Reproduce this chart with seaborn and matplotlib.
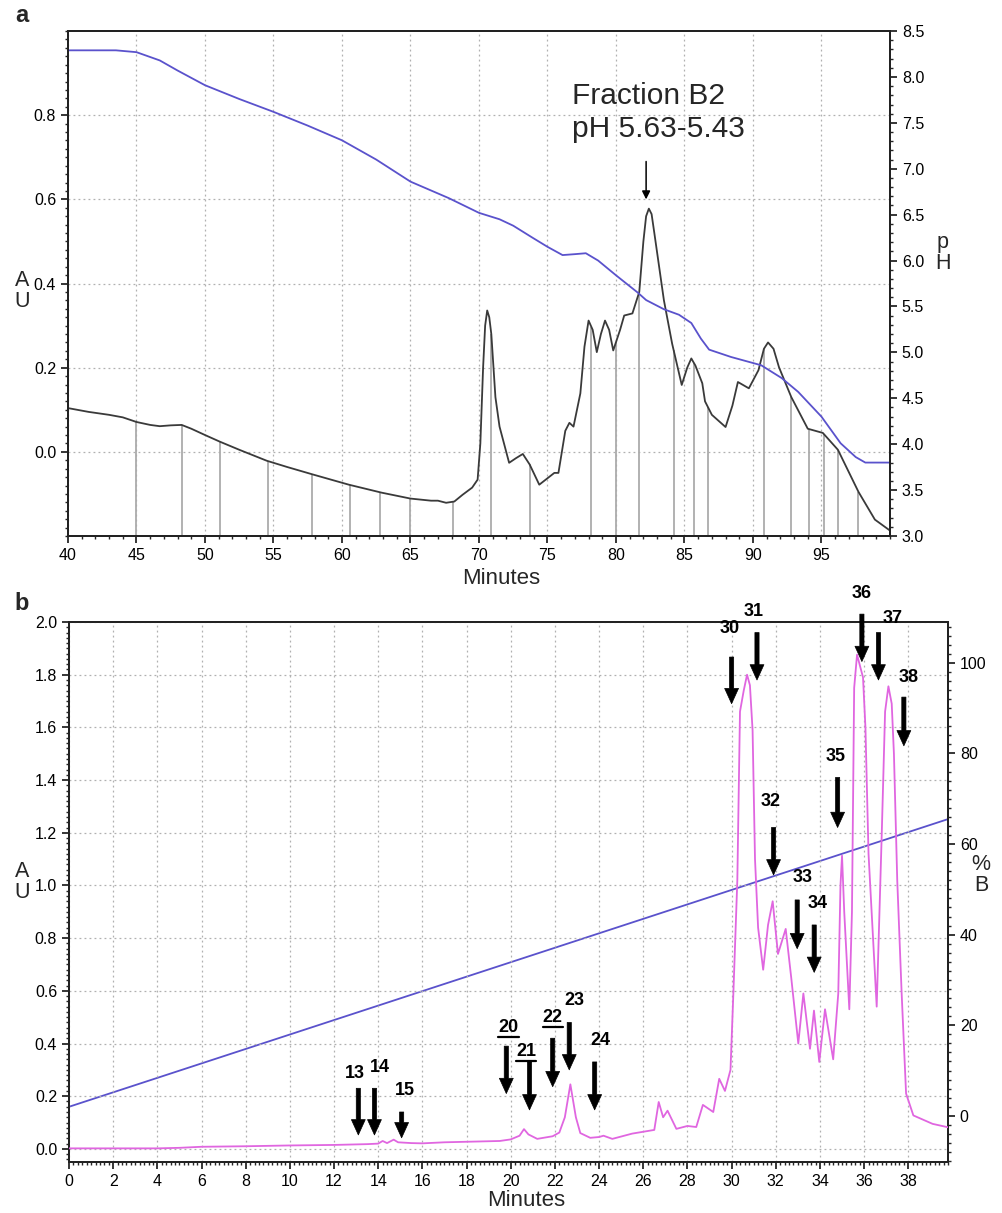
import numpy as np
import pandas as pd
import seaborn as sns
import matplotlib.pyplot as plt
from matplotlib.lines import Line2D
from matplotlib.ticker import MultipleLocator, FormatStrFormatter

sns.set_style('ticks')
plt.rcParams['font.family'] = ['Liberation Sans', 'DejaVu Sans']

# panel a: UV trace (AU) over minutes
a_min = [40.0, 41.5, 43.0, 44.0, 45.0, 46.0, 46.7, 47.5, 48.3, 49.0, 50.0, 51.1, 52.5,
         54.5, 56.0, 57.9, 60.5, 62.9, 65.0, 66.5, 67.0, 67.6, 68.2, 68.8, 69.5, 69.9,
         70.1, 70.3, 70.45, 70.6, 70.75, 70.9, 71.2, 71.5, 72.2, 72.7, 73.2, 73.7, 74.4,
         75.5, 75.8, 76.3, 76.6, 76.9, 77.4, 77.7, 78.0, 78.3, 78.6, 78.9, 79.2, 79.5,
         79.8, 80.3, 80.6, 81.2, 81.7, 82.0, 82.2, 82.4, 82.6, 82.8, 83.5, 84.1, 84.8,
         85.2, 85.5, 85.8, 86.3, 86.5, 87.0, 88.0, 88.5, 88.9, 89.7, 90.4, 90.8, 91.1,
         91.5, 91.9, 92.8, 94.0, 95.1, 96.2, 97.7, 98.9, 100.0]
a_au = [0.104, 0.095, 0.088, 0.082, 0.071, 0.064, 0.061, 0.063, 0.064, 0.055, 0.040, 0.024, 0.005,
        -0.021, -0.036, -0.054, -0.078, -0.097, -0.111, -0.116, -0.116, -0.121, -0.118, -0.102, -0.085, -0.066,
        0.020, 0.200, 0.300, 0.336, 0.320, 0.280, 0.130, 0.060, -0.026, -0.015, -0.005, -0.030, -0.078,
        -0.050, -0.050, 0.050, 0.069, 0.060, 0.139, 0.250, 0.312, 0.290, 0.237, 0.280, 0.312, 0.290,
        0.241, 0.290, 0.324, 0.329, 0.380, 0.500, 0.560, 0.578, 0.565, 0.520, 0.360, 0.257, 0.159,
        0.200, 0.222, 0.205, 0.163, 0.120, 0.088, 0.059, 0.110, 0.166, 0.151, 0.194, 0.245, 0.260,
        0.245, 0.201, 0.130, 0.055, 0.045, 0.005, -0.095, -0.161, -0.187]

# panel a: pH gradient
ph_min = [40.0, 43.5, 45.0, 46.7, 48.0, 50.0, 52.5, 55.0, 57.5, 60.0, 62.5, 65.0, 67.8, 70.0,
          71.5, 72.5, 73.9, 75.0, 76.1, 77.0, 77.8, 78.7, 80.0, 81.6, 82.2, 83.5, 84.6, 85.5,
          86.2, 86.8, 88.4, 90.6, 92.1, 93.3, 95.0, 96.4, 97.5, 98.2, 100.0]
ph_val = [8.29, 8.29, 8.27, 8.18, 8.07, 7.91, 7.76, 7.62, 7.47, 7.31, 7.10, 6.86, 6.68, 6.52,
          6.45, 6.38, 6.25, 6.15, 6.06, 6.07, 6.08, 6.00, 5.84, 5.65, 5.57, 5.47, 5.41, 5.32,
          5.15, 5.03, 4.95, 4.86, 4.72, 4.57, 4.30, 4.01, 3.86, 3.80, 3.80]

# panel a: collected fractions (minutes)
frac_min = [45.0, 48.3, 51.1, 54.6, 57.8, 60.6, 62.8, 65.0, 68.1, 70.9, 73.7, 78.2, 80.0,
            81.7, 84.2, 85.7, 86.7, 90.8, 92.8, 94.1, 95.2, 96.2, 97.7]

# panel b: UV trace (AU)
b_min = [0.0, 2.0, 4.0, 5.0, 6.0, 8.0, 10.0, 12.0, 13.5, 14.0, 14.2, 14.4, 14.7, 14.9, 15.5,
         16.0, 17.0, 18.0, 19.5, 20.0, 20.4, 20.6, 20.8, 21.2, 21.9, 22.2, 22.45, 22.7, 22.95,
         23.15, 23.6, 24.0, 24.2, 24.6, 25.5, 26.5, 26.7, 26.9, 27.1, 27.5, 28.0, 28.4, 28.7,
         29.17, 29.44, 29.7, 29.95, 30.08, 30.26, 30.38, 30.55, 30.7, 30.83, 30.95, 31.06, 31.2,
         31.43, 31.65, 31.86, 32.1, 32.45, 32.7, 33.02, 33.25, 33.55, 33.73, 33.97, 34.23, 34.6,
         34.83, 34.93, 35.0, 35.1, 35.33, 35.45, 35.55, 35.68, 35.95, 36.06, 36.2, 36.57, 36.8,
         36.95, 37.1, 37.25, 37.35, 37.5, 37.7, 37.9, 38.23, 39.1, 39.8]
b_au = [0.002, 0.002, 0.002, 0.004, 0.008, 0.010, 0.013, 0.015, 0.018, 0.020, 0.030, 0.022, 0.035, 0.025, 0.022,
        0.021, 0.025, 0.027, 0.030, 0.036, 0.050, 0.075, 0.055, 0.038, 0.048, 0.062, 0.120, 0.245, 0.120,
        0.060, 0.042, 0.045, 0.050, 0.038, 0.058, 0.072, 0.178, 0.120, 0.145, 0.076, 0.087, 0.083, 0.167,
        0.140, 0.266, 0.220, 0.300, 0.590, 1.020, 1.660, 1.740, 1.800, 1.760, 1.590, 1.100, 0.840,
        0.680, 0.850, 0.940, 0.740, 0.835, 0.650, 0.400, 0.590, 0.380, 0.525, 0.330, 0.530, 0.340,
        0.590, 1.000, 1.113, 0.900, 0.530, 0.900, 1.750, 1.876, 1.790, 1.600, 1.120, 0.540, 1.200,
        1.660, 1.756, 1.690, 1.500, 1.020, 0.590, 0.210, 0.127, 0.095, 0.082]

# panel b: %B gradient
grad_min = [0.0, 39.8]
grad_pct = [2.0, 65.5]

# panel b: fraction arrows (label, x, arrow tail, arrow tip, label x, label y)
arr_lab = ['13', '14', '15', '20', '21', '22', '23', '24', '30', '31', '32', '33', '34',
           '35', '36', '37', '38']
arr_x = [13.1, 13.83, 15.06, 19.8, 20.85, 21.9, 22.65, 23.8, 30.0, 31.15, 31.9, 32.97, 33.74,
         34.8, 35.9, 36.65, 37.8]
arr_tail = [0.23, 0.23, 0.14, 0.39, 0.33, 0.42, 0.48, 0.33, 1.867, 1.96, 1.22, 0.945, 0.85,
            1.41, 2.03, 1.96, 1.715]
arr_tip = [0.053, 0.053, 0.042, 0.21, 0.148, 0.236, 0.30, 0.148, 1.69, 1.78, 1.04, 0.76, 0.67,
           1.22, 1.85, 1.78, 1.53]
lab_x = [12.95, 14.08, 15.2, 19.9, 20.7, 21.9, 22.9, 24.05, 29.9, 31.0, 31.75, 33.2, 33.9,
         34.7, 35.9, 37.3, 38.0]
lab_y = [0.288, 0.31, 0.22, 0.46, 0.37, 0.50, 0.565, 0.41, 1.977, 2.04, 1.32, 1.03, 0.93,
         1.49, 2.11, 2.015, 1.79]
underlined = ['20', '21', '22']

df_a = pd.DataFrame({'Minutes': a_min, 'AU': a_au})
df_ph = pd.DataFrame({'Minutes': ph_min, 'pH': ph_val})
df_b = pd.DataFrame({'Minutes': b_min, 'AU': b_au})
df_g = pd.DataFrame({'Minutes': grad_min, 'B': grad_pct})

fig = plt.figure(figsize=(10.03, 12.13), dpi=100)
ax1 = fig.add_axes([0.0678, 0.5581, 0.8195, 0.4163])
ax3 = fig.add_axes([0.0688, 0.0420, 0.8764, 0.4452])

grid_kw = dict(color='#b0b0b0', ls=(0, (1.5, 2.5)), lw=0.9)
tick_kw = dict(direction='out', labelsize=11.5, width=1.1, colors='black')


def style_spines(*axes):
    for ax in axes:
        for s in ax.spines.values():
            s.set_linewidth(1.4)
            s.set_color('#222222')


# ---- panel a ----
tops = np.interp(frac_min, a_min, a_au)
ax1.vlines(frac_min, -0.2, tops, color='#ababab', lw=1.3, zorder=1)
sns.lineplot(data=df_a, x='Minutes', y='AU', ax=ax1, color='#3a3a3a', lw=1.3, zorder=3)
ax1.set_xlim(40, 100)
ax1.set_ylim(-0.2, 1.0)
ax1.set_xticks(np.arange(40, 100, 5))
ax1.xaxis.set_minor_locator(MultipleLocator(1))
ax1.set_yticks(np.arange(0, 0.81, 0.2))
ax1.yaxis.set_minor_locator(MultipleLocator(0.02))
ax1.yaxis.set_major_formatter(FormatStrFormatter('%.1f'))
ax1.grid(True, which='major', **grid_kw)
ax1.set_xlabel('')
ax1.set_ylabel('')
ax1.tick_params(which='major', length=5, **tick_kw)
ax1.tick_params(which='minor', length=2.5, direction='out', width=1)

ax2 = ax1.twinx()
sns.lineplot(data=df_ph, x='Minutes', y='pH', ax=ax2, color='#5a52cc', lw=1.3)
ax2.set_ylim(3.0, 8.5)
ax2.set_yticks(np.arange(3.0, 8.51, 0.5))
ax2.yaxis.set_minor_locator(MultipleLocator(0.1))
ax2.yaxis.set_major_formatter(FormatStrFormatter('%.1f'))
ax2.set_ylabel('')
ax2.tick_params(which='major', length=5, **tick_kw)
ax2.tick_params(which='minor', length=2.5, direction='out', width=1)
style_spines(ax1, ax2)

ax1.annotate('', xy=(82.2, 0.60), xytext=(82.2, 0.69),
             arrowprops=dict(arrowstyle='-|>', lw=1.1, color='black',
                             mutation_scale=12, shrinkA=0, shrinkB=0))
ax1.text(76.8, 0.806, 'Fraction B2\npH 5.63-5.43', fontsize=21.5, ha='left',
         va='center', linespacing=1.2)

fig.text(22 / 1003, 1 - 291 / 1213, 'A\nU', fontsize=15.5, ha='center', va='center',
         linespacing=0.95)
fig.text(943 / 1003, 1 - 253 / 1213, 'p\nH', fontsize=15.5, ha='center', va='center',
         linespacing=0.95)
fig.text(501 / 1003, 1 - 578 / 1213, 'Minutes', fontsize=16, ha='center', va='center')
fig.text(22 / 1003, 1 - 15 / 1213, 'a', fontsize=17, fontweight='bold', ha='center',
         va='center')

# ---- panel b ----
sns.lineplot(data=df_b, x='Minutes', y='AU', ax=ax3, color='#e066e0', lw=1.3, zorder=3)
ax3.set_xlim(0, 39.8)
ax3.set_ylim(-0.05, 2.0)
ax3.set_xticks(np.arange(0, 39, 2))
ax3.xaxis.set_minor_locator(MultipleLocator(0.2))
ax3.set_yticks(np.arange(0, 2.01, 0.2))
ax3.yaxis.set_minor_locator(MultipleLocator(0.02))
ax3.yaxis.set_major_formatter(FormatStrFormatter('%.1f'))
ax3.grid(True, which='major', **grid_kw)
ax3.set_xlabel('')
ax3.set_ylabel('')
ax3.tick_params(which='major', length=5, **tick_kw)
ax3.tick_params(which='minor', length=2.5, direction='out', width=1)

ax4 = ax3.twinx()
sns.lineplot(data=df_g, x='Minutes', y='B', ax=ax4, color='#5a52cc', lw=1.3)
ax4.set_ylim(-10.2, 109)
ax4.set_yticks(np.arange(0, 101, 20))
ax4.yaxis.set_minor_locator(MultipleLocator(2))
ax4.set_ylabel('')
ax4.tick_params(which='major', length=5, **tick_kw)
ax4.tick_params(which='minor', length=2.5, direction='out', width=1)
style_spines(ax3, ax4)

# magenta trace above the gradient line
ax3.set_zorder(ax4.get_zorder() + 1)
ax3.patch.set_visible(False)

label_texts = []
for lab, x, t0, t1, lx, ly in zip(arr_lab, arr_x, arr_tail, arr_tip, lab_x, lab_y):
    ax3.annotate('', xy=(x, t1), xytext=(x, t0),
                 arrowprops=dict(width=3.0, headwidth=10, headlength=11,
                                 facecolor='black', edgecolor='black', lw=0.5,
                                 shrink=0.0), zorder=5)
    t = ax3.text(lx, ly, lab, fontsize=13, fontweight='bold', ha='center',
                 va='center', zorder=5, color='black')
    label_texts.append((lab, t))

fig.text(22 / 1003, 1 - 882 / 1213, 'A\nU', fontsize=15.5, ha='center', va='center',
         linespacing=0.95)
fig.text(981 / 1003, 1 - 875 / 1213, '%\nB', fontsize=15.5, ha='center', va='center',
         linespacing=0.95)
fig.text(526 / 1003, 1 - 1200 / 1213, 'Minutes', fontsize=16, ha='center', va='center')
fig.text(22 / 1003, 1 - 604 / 1213, 'b', fontsize=17, fontweight='bold', ha='center',
         va='center')

# underline some fraction labels
fig.canvas.draw()
inv = fig.transFigure.inverted()
for lab, t in label_texts:
    if lab in underlined:
        bb = t.get_window_extent()
        (x0, y0), (x1, _) = inv.transform([(bb.x0, bb.y0 - 1), (bb.x1, bb.y0 - 1)])
        fig.add_artist(Line2D([x0, x1], [y0, y0], color='black', lw=1.6))

fig.savefig('out.png', dpi=100)
